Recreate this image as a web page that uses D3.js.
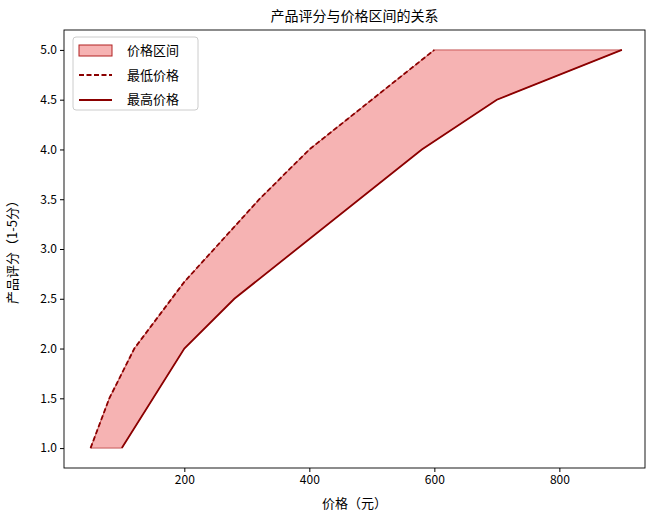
<!DOCTYPE html>
<html><head><meta charset="utf-8">
<script src="https://cdn.jsdelivr.net/npm/d3@7"></script>
<style>body{margin:0;background:#fff}text{font-family:"Noto Sans CJK SC",sans-serif}</style>
</head><body><svg id="c" width="660" height="519"></svg>
<script>
const lowPrice=[50,80,120,200,320,400,600];
const lowRating=[1,1.5,2,2.67,3.5,4,5];
const highPrice=[100,200,280,580,700,900];
const highRating=[1,2,2.5,4,4.5,5];
const xTicks=[200,400,600,800];
const yTicks=[1,1.5,2,2.5,3,3.5,4,4.5,5];

const svg=d3.select("#c");
const L=64,R=645,T=30,B=468;
const x=d3.scaleLinear().domain([7.5,937]).range([L,R]);
const y=d3.scaleLinear().domain([0.8,5.2]).range([B,T]);
const low=lowPrice.map((p,i)=>[p,lowRating[i]]);
const high=highPrice.map((p,i)=>[p,highRating[i]]);
const line=d3.line().x(d=>x(d[0])).y(d=>y(d[1]));
const dark="#8b0000";
svg.append("path").attr("d",line(low.concat(high.slice().reverse()))+"Z")
  .attr("fill","#f08080").attr("fill-opacity",0.6).attr("stroke","#b22222").attr("stroke-opacity",0.7);
svg.append("path").attr("d",line(low)).attr("fill","none").attr("stroke",dark).attr("stroke-width",1.8).attr("stroke-dasharray","5,2.5");
svg.append("path").attr("d",line(high)).attr("fill","none").attr("stroke",dark).attr("stroke-width",1.8);
svg.append("rect").attr("x",L).attr("y",T).attr("width",R-L).attr("height",B-T).attr("fill","none").attr("stroke","#000").attr("stroke-width",0.9);
const xa=svg.append("g").attr("transform",`translate(0,${B})`).call(d3.axisBottom(x).tickValues(xTicks).tickSize(4).tickFormat(d3.format("d")));
const ya=svg.append("g").attr("transform",`translate(${L},0)`).call(d3.axisLeft(y).tickValues(yTicks).tickSize(4).tickFormat(d3.format(".1f")));
[xa,ya].forEach(a=>{a.select(".domain").remove();a.selectAll("text").attr("font-size",12).attr("fill","#000").attr("font-family","Noto Sans CJK SC");a.selectAll("line").attr("stroke","#000");});
svg.append("text").attr("x",(L+R)/2).attr("y",21).attr("text-anchor","middle").attr("font-size",14).text("产品评分与价格区间的关系");
svg.append("text").attr("x",(L+R)/2).attr("y",508).attr("text-anchor","middle").attr("font-size",13).text("价格（元）");
svg.append("text").attr("transform",`translate(17,${(T+B)/2}) rotate(-90)`).attr("text-anchor","middle").attr("font-size",13).text("产品评分（1-5分）");
const lg=svg.append("g").attr("transform","translate(73,37)");
lg.append("rect").attr("width",125).attr("height",73).attr("rx",3).attr("fill","#fff").attr("stroke","#ccc");
lg.append("rect").attr("x",6).attr("y",8).attr("width",33).attr("height",11).attr("fill","#f08080").attr("fill-opacity",0.6).attr("stroke","#b22222");
lg.append("line").attr("x1",6).attr("x2",39).attr("y1",38).attr("y2",38).attr("stroke",dark).attr("stroke-width",1.8).attr("stroke-dasharray","5,2.5");
lg.append("line").attr("x1",6).attr("x2",39).attr("y1",63).attr("y2",63).attr("stroke",dark).attr("stroke-width",1.8);
["价格区间","最低价格","最高价格"].forEach((t,i)=>lg.append("text").attr("x",54).attr("y",18+i*24.5).attr("font-size",13).text(t));
</script></body></html>
